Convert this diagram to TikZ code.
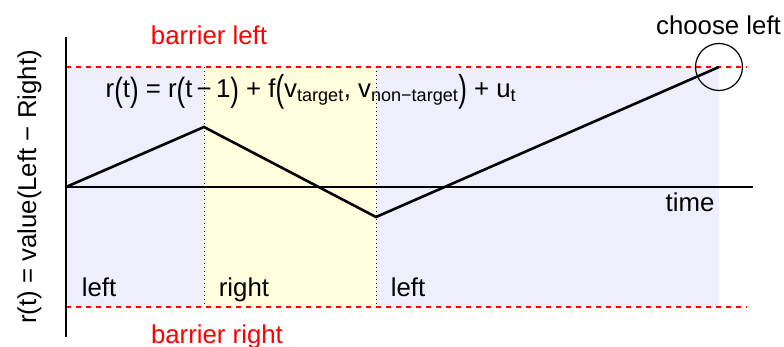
\documentclass[tikz,border=0pt]{standalone}
\usepackage{fontspec}
\setmainfont{Liberation Sans}
\usepackage{graphicx}
\definecolor{bgblue}{HTML}{EEEEFC}
\definecolor{bgyellow}{HTML}{FFFFDD}
\newcommand{\bigparen}[1]{\raisebox{-0.12em}{\scalebox{1}[1.3]{#1}}}
\begin{document}
\begin{tikzpicture}[x=1pt,y=-1pt, font=\fontsize{25.8}{31}\selectfont,
  lbl/.style={anchor=base, inner sep=0pt},
  redlbl/.style={lbl, text=red},
  barrier/.style={red, dash pattern=on 5pt off 5pt, line width=1.1pt},
  divider/.style={dash pattern=on 1pt off 3pt, line width=1pt},
  axis/.style={line width=1.3pt},
  trace/.style={line width=2.6pt, line join=miter}]
\useasboundingbox (0,0) rectangle (784,347);
% shaded regions
\fill[bgblue] (66,67) rectangle (719,307);
\fill[bgyellow] (204,67) rectangle (376,307);
% coordinates
\coordinate (d1t) at (204,67);
\coordinate (d1b) at (204,307);
\coordinate (d2t) at (376,67);
\coordinate (d2b) at (376,307);
\coordinate (blL) at (66,67);
\coordinate (blR) at (747,67);
\coordinate (brL) at (66,307);
\coordinate (brR) at (747,307);
\coordinate (yt) at (66,37);
\coordinate (yb) at (66,337);
\coordinate (xl) at (66,187);
\coordinate (xr) at (753,187);
\coordinate (p0) at (66,187);
\coordinate (p1) at (204,127);
\coordinate (p2) at (376,217);
\coordinate (p3) at (719,67);
% dividers and barriers
\draw[divider] (d1t) -- (d1b);
\draw[divider] (d2t) -- (d2b);
\draw[barrier] (blL) -- (blR);
\draw[barrier] (brL) -- (brR);
% axes
\draw[axis] (xl) -- (xr);
\draw[axis] (yt) -- (yb);
% trace
\draw[trace] (p0) -- (p1) -- (p2) -- (p3);
\node[circle, draw, minimum size=47pt, line width=1.2pt] (choice) at (p3) {};
% labels
\node[redlbl] (bleft) at (209,45) {barrier left};
\node[redlbl] (bright) at (217,343) {barrier right};
\node[lbl] (choose) at (718.5,35) {choose left};
\node[lbl] (time) at (690,212) {time};
\node[lbl] (l1) at (99,296) {left};
\node[lbl] (r1) at (244,296) {right};
\node[lbl] (l2) at (408,296) {left};
\node[lbl, rotate=90] (ylab) at (36,187) {r(t) = value(Left − Right)};
\node[lbl] (formula) at (311,98) {r\bigparen{(}t\bigparen{)} = r\bigparen{(}t\,−\,1\bigparen{)} + f\raisebox{-0.15em}{\scalebox{1}[1.45]{(}}v\textsubscript{target}, v\textsubscript{non−target}\raisebox{-0.15em}{\scalebox{1}[1.45]{)}} + u\textsubscript{t}};
\end{tikzpicture}
\end{document}
